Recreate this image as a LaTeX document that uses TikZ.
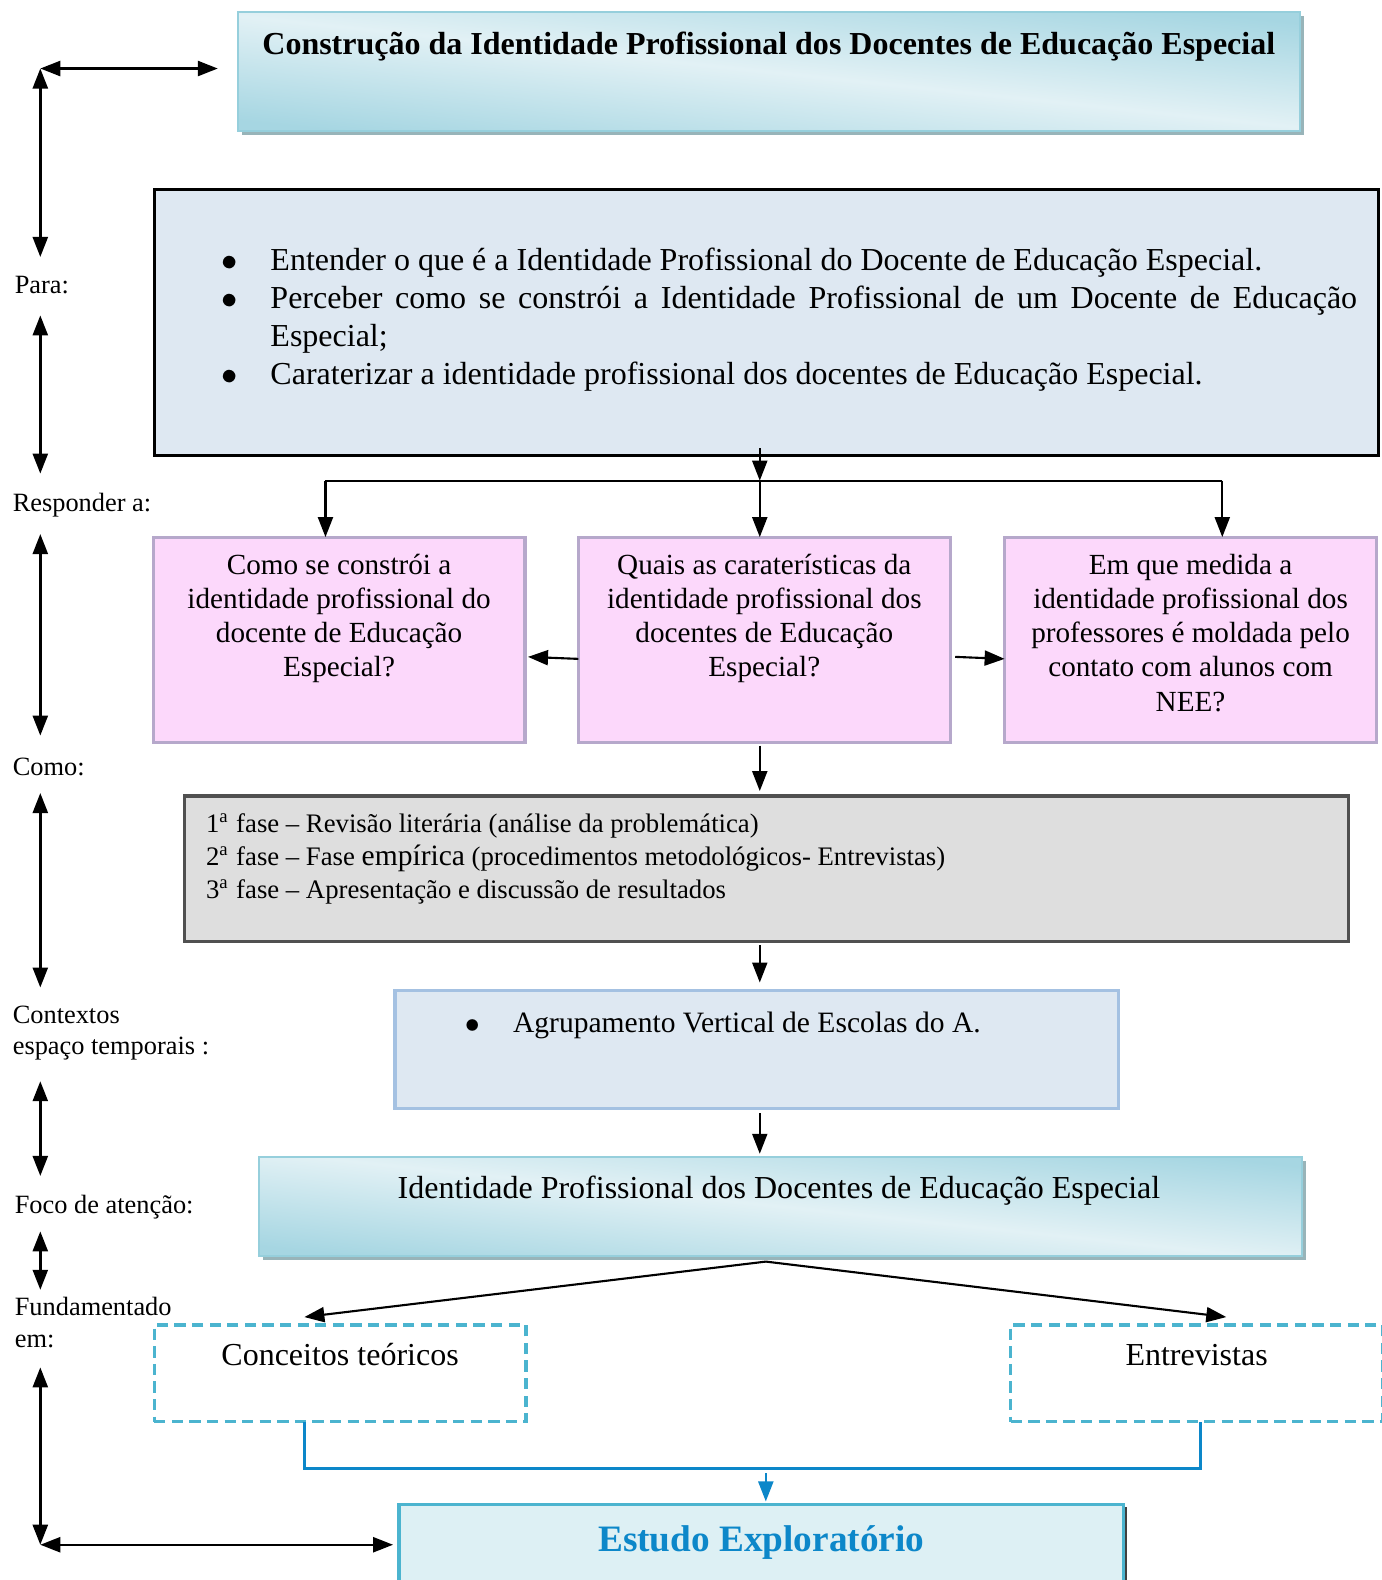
\documentclass[tikz,border=0pt]{standalone}
\usepackage{fontspec}
\setmainfont{Liberation Serif}
\usepackage{tikz}
\usetikzlibrary{arrows.meta,shadows}
\usepackage{enumitem}

\definecolor{ttlDark}{HTML}{A6D6E2}
\definecolor{ttlLight}{HTML}{E2F1F5}
\definecolor{ttlBorder}{HTML}{96CFDC}
\definecolor{ttlShadow}{HTML}{98B4B9}
\definecolor{objFill}{HTML}{DEE8F2}
\definecolor{qFill}{HTML}{FCD8FB}
\definecolor{qBorder}{HTML}{B6A8CB}
\definecolor{phFill}{HTML}{DEDEDE}
\definecolor{phBorder}{HTML}{505050}
\definecolor{ctxBorder}{HTML}{A4C1E2}
\definecolor{dashBlue}{HTML}{4BB4CF}
\definecolor{linkBlue}{HTML}{0C87C9}
\definecolor{finFill}{HTML}{DDF0F4}

\begin{document}
\begin{tikzpicture}[x=0.01007cm, y=-0.01007cm,
    arr/.style={-{Triangle[length=0.2cm,width=0.15cm]}, line width=0.6pt},
    dblarr/.style={{Triangle[length=0.2cm,width=0.15cm]}-{Triangle[length=0.2cm,width=0.15cm]}, line width=0.7pt},
    gradbox/.style={draw=ttlBorder, line width=0.6pt, inner sep=0pt, outer sep=0pt,
        top color=ttlDark, bottom color=ttlDark, middle color=ttlLight, shading angle=-6,
        drop shadow={shadow xshift=0.04cm, shadow yshift=-0.04cm, fill=ttlShadow, opacity=1}},
    qbox/.style={draw=qBorder, line width=0.9pt, fill=qFill, inner sep=0pt, outer sep=0pt,
        minimum width=3.716cm, minimum height=2.054cm},
    qtext/.style={anchor=north, align=center, inner sep=0pt, font=\fontsize{8.3}{9.75}\selectfont},
    dashbox/.style={draw=dashBlue, line width=0.9pt, dash pattern=on 3.2pt off 1.8pt, inner sep=0pt, outer sep=0pt,
        minimum width=3.716cm, minimum height=0.967cm},
    boxtext/.style={anchor=base, inner sep=0pt, font=\fontsize{9.1}{10.75}\selectfont},
    lbl/.style={anchor=base west, inner sep=0pt, font=\fontsize{7.5}{8.9}\selectfont}]
\useasboundingbox (0,0) rectangle (1371,1568);

\node[gradbox, minimum width=10.614cm, minimum height=1.188cm] (title) at (763,71) {};
\node[boxtext, font=\bfseries\fontsize{9.1}{11}\selectfont] (titletxt) at ([yshift=-0.423cm]title.north)
    {Construção da Identidade Profissional dos Docentes de Educação Especial};

\node[draw, line width=0.9pt, fill=objFill, inner sep=0pt, outer sep=0pt,
    minimum width=12.235cm, minimum height=2.658cm] (obj) at (760.5,320) {};
\node[anchor=west, inner sep=0pt] (objtxt) at ([xshift=0.655cm, yshift=0.03cm]obj.west)
    {\begin{minipage}{11.36cm}\fontsize{9.1}{10.75}\selectfont
    \begin{itemize}[label=$\bullet$, leftmargin=0.5cm, labelsep=0.33cm, itemsep=0pt, parsep=0pt, topsep=0pt, partopsep=0pt]
    \item Entender o que é a Identidade Profissional do Docente de Educação Especial.
    \item Perceber como se constrói a Identidade Profissional de um Docente de Educação\linebreak Especial;
    \item Caraterizar a identidade profissional dos docentes de Educação Especial.
    \end{itemize}
    \end{minipage}};

\foreach \n/\xq/\qtxt in {1/336.5/{Como se constrói a\\identidade profissional do\\docente de Educação\\Especial?},
    2/758.5/{Quais as caraterísticas da\\identidade profissional dos\\docentes de Educação\\Especial?},
    3/1181.5/{Em que medida a\\identidade profissional dos\\professores é moldada pelo\\contato com alunos com\\NEE?}}{
  \node[qbox] (q\n) at (\xq,635) {};
  \node[qtext] (qtxt\n) at ([yshift=-0.16cm]q\n.north) {\qtxt};
}

\coordinate (j1) at (323,477);
\coordinate (j2) at (754,477);
\coordinate (j3) at (1213,477);
\draw[arr] ([yshift=0.07cm]obj.south -| j2) -- (j2);
\draw[line width=0.6pt] (j1) -- (j3);
\draw[arr] (j1) -- (j1 |- q1.north);
\draw[arr] (j2) -- (j2 |- q2.north);
\draw[arr] (j3) -- (j3 |- q3.north);
\draw[arr] ([yshift=-0.19cm]q2.west) -- ([xshift=0.03cm,yshift=-0.17cm]q1.east);
\draw[arr] ([xshift=0.05cm,yshift=-0.17cm]q2.east) -- ([yshift=-0.19cm]q3.west);

\node[draw=phBorder, line width=0.9pt, fill=phFill, inner sep=0pt, outer sep=0pt,
    minimum width=11.631cm, minimum height=1.45cm] (phases) at (760.5,862) {};
\node[anchor=north west, align=left, inner sep=0pt, font=\fontsize{7.6}{9.46}\selectfont] (phasestxt)
    at ([xshift=0.21cm,yshift=-0.167cm]phases.north west)
    {1\textsuperscript{a} fase – Revisão literária (análise da problemática)\\
     2\textsuperscript{a} fase – Fase {\fontsize{8.4}{9.46}\selectfont empírica} (procedimentos metodológicos- Entrevistas)\\
     3\textsuperscript{a} fase – Apresentação e discussão de resultados};
\draw[arr] ([yshift=-0.03cm]q2.south -| j2) -- ([yshift=0.05cm]phases.north -| j2);

\node[draw=ctxBorder, line width=0.9pt, fill=objFill, inner sep=0pt, outer sep=0pt,
    minimum width=7.23cm, minimum height=1.178cm] (context) at (751,1041.5) {};
\node[boxtext, anchor=base west, font=\fontsize{8.4}{10}\selectfont] (contexttxt) at ([xshift=0.69cm,yshift=-0.415cm]context.north west)
    {$\bullet$\hspace{9.5pt}Agrupamento Vertical de Escolas do A.};
\draw[arr] ([yshift=-0.04cm]phases.south -| j2) -- ([yshift=0.08cm]context.north -| j2);

\node[gradbox, minimum width=10.422cm, minimum height=0.987cm] (focus) at (774.5,1197) {};
\node[boxtext] (focustxt) at ([xshift=-0.015cm,yshift=-0.418cm]focus.north)
    {Identidade Profissional dos Docentes de Educação Especial};
\draw[arr] ([yshift=-0.05cm]context.south -| j2) -- ([yshift=0.03cm]focus.north -| j2);

\node[dashbox] (theory) at (337.5,1363) {};
\node[boxtext] (theorytxt) at ([yshift=-0.408cm]theory.north) {Conceitos teóricos};
\node[dashbox] (interview) at (1187.5,1363) {};
\node[boxtext] (interviewtxt) at ([yshift=-0.408cm]interview.north) {Entrevistas};

\coordinate (fan) at (760,1252);
\draw[arr] (fan) -- ([xshift=-0.357cm,yshift=0.08cm]theory.north);
\draw[arr] (fan) -- ([xshift=0.297cm,yshift=0.08cm]interview.north);

\node[draw=dashBlue, line width=0.9pt, fill=finFill, inner sep=0pt, outer sep=0pt,
    minimum width=7.24cm, minimum height=1.077cm,
    drop shadow={shadow xshift=0.03cm, shadow yshift=-0.03cm, fill=black!75, opacity=1}] (final) at (755.5,1546.5) {};
\node[boxtext, text=linkBlue, font=\bfseries\fontsize{10.6}{12}\selectfont] (finaltxt)
    at ([yshift=-0.473cm]final.north) {Estudo Exploratório};

\coordinate (merge) at (760,1457);
\draw[linkBlue, line width=0.8pt] ([xshift=-0.357cm]theory.south) |- (merge) -| ([xshift=0.035cm]interview.south);
\draw[arr, linkBlue] ([yshift=-0.05cm]merge) -- ([yshift=0.03cm]final.north -| merge);

\node[lbl] (lblPara) at (14,291.5) {Para:};
\node[lbl] (lblResp) at (12,507.5) {Responder a:};
\node[lbl] (lblComo) at (12,769.5) {Como:};
\node[lbl, anchor=north west, align=left] (lblCtx) at (12,997.8) {Contextos\\espaço temporais :};
\node[lbl] (lblFoco) at (14,1204.5) {Foco de atenção:};
\node[lbl, anchor=north west, align=left, font=\fontsize{7.5}{9.2}\selectfont] (lblFund) at (14,1286.6) {Fundamentado\\em:};

\foreach \n/\ya/\yb in {1/68/255, 2/313/470, 3/530/730, 4/787/980, 5/1073/1167, 6/1222/1280, 7/1357/1533}{
  \coordinate (up\n) at (40,\ya);
  \coordinate (dn\n) at (40,\yb);
  \draw[dblarr] (up\n) -- (dn\n);
}
\draw[dblarr] (up1) -- ([xshift=-0.2cm]up1 -| title.west);
\draw[dblarr] (dn7) -- ([xshift=-0.06cm]dn7 -| final.west);
\end{tikzpicture}
\end{document}
